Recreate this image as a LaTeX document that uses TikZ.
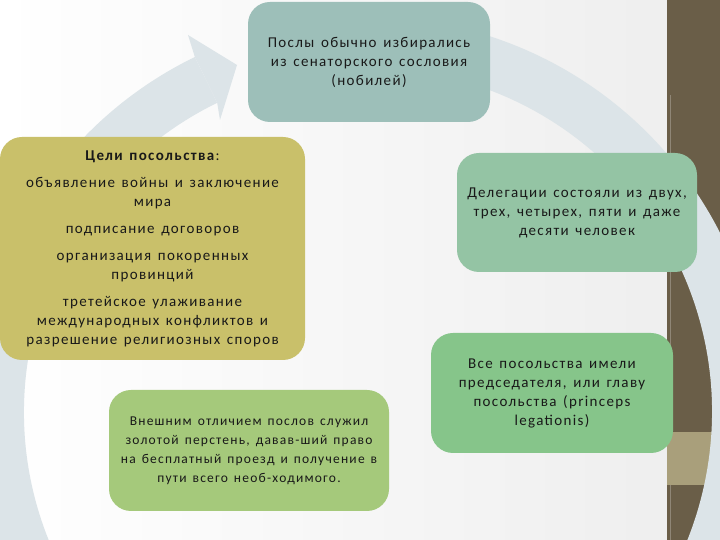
\documentclass[tikz,border=0pt]{standalone}
\usepackage{fontspec}
\setmainfont{Carlito}[LetterSpace=9, WordSpace=1.4]
\usetikzlibrary{calc}
\definecolor{ringgray}{HTML}{DCE4E8}
\definecolor{barbrown}{HTML}{6A5E48}
\definecolor{barkhaki}{HTML}{A99F7B}
\definecolor{tealbox}{HTML}{9DBFB9}
\definecolor{olivebox}{HTML}{C9C06A}
\definecolor{mintbox}{HTML}{94C4A4}
\definecolor{greenbox}{HTML}{86C58A}
\definecolor{limebox}{HTML}{A5C97B}
\tikzset{textbox/.style={rounded corners=22pt,align=center,inner sep=4pt,text=black!90,
    font=\fontsize{15}{19}\selectfont}}

\begin{document}
\begin{tikzpicture}[x=1pt, y=1pt]
  \clip (0,0) rectangle (720,540);
  \shade[left color=white, right color=gray!14] (0,0) rectangle (720,540);

  % right-hand bar
  \fill[barbrown] (667,0) rectangle (720,540);
  \draw[barbrown!75!white, line width=0.8pt] (670,0) -- (670,445);
  \fill[barkhaki] (667,55) rectangle (720,108);

  % circular arrow behind the boxes
  \coordinate (c) at (368,128);
  \fill[ringgray] (c) ++(116:395) arc[start angle=116, end angle=440, radius=395]
    -- ($(c)+(80:344)$) arc[start angle=440, end angle=116, radius=344] -- cycle;
  \fill[ringgray] ($(c)+(116:395)$) -- (188,505) -- (237,475) -- (220,420)
    -- ($(c)+(116:344)$) -- cycle;

  \node[textbox, fill=tealbox, minimum width=242pt, minimum height=120pt] (posly) at (369,478)
    {Послы обычно избирались\\ из сенаторского сословия\\ (нобилей)};
  \node[textbox, fill=olivebox, minimum width=305pt, minimum height=223pt] (celi) at (152.5,291.5)
    {\textbf{Цели посольства}:\\[8pt]
     объявление войны и заключение\\ мира\\[8pt]
     подписание договоров\\[8pt]
     организация покоренных\\ провинций\\[8pt]
     третейское улаживание\\ международных конфликтов и\\ разрешение религиозных споров};
  \node[textbox, fill=mintbox, minimum width=240pt, minimum height=119pt] (delegacii) at (577,327.5)
    {Делегации состояли из двух,\\ трех, четырех, пяти и даже\\ десяти человек};
  \node[textbox, fill=greenbox, minimum width=242pt, minimum height=120pt] (glava) at (552,147)
    {Все посольства имели\\ председателя, или главу\\ посольства (princeps\\ legationis)};
  \node[textbox, fill=limebox, minimum width=280pt, minimum height=121pt,
    font=\fontsize{13.5}{19}\selectfont] (persten) at (249,89.5)
    {Внешним отличием послов служил\\ золотой перстень, давав-ший право\\ на бесплатный проезд и получение в\\ пути всего необ-ходимого.};
\end{tikzpicture}
\end{document}
